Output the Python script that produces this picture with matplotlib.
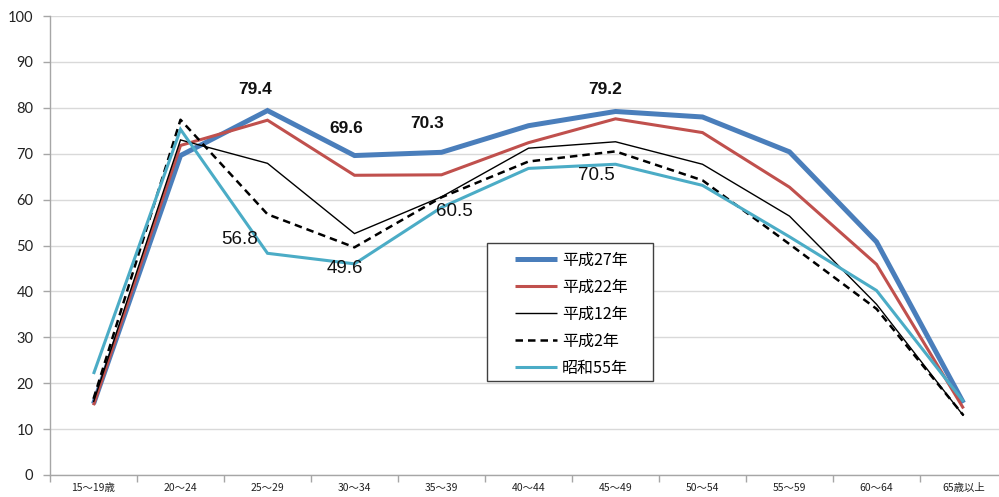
import matplotlib
matplotlib.use("Agg")
import matplotlib.pyplot as plt
from matplotlib.patches import Rectangle
import numpy as np

plt.rcParams['font.family'] = ['Noto Sans CJK JP', 'DejaVu Sans']

categories = ['15～19歳', '20～24', '25～29', '30～34', '35～39', '40～44',
              '45～49', '50～54', '55～59', '60～64', '65歳以上']
series_names = ['平成27年', '平成22年', '平成12年', '平成2年', '昭和55年']
h27 = [15.5, 69.6, 79.4, 69.6, 70.3, 76.1, 79.2, 78.0, 70.4, 50.8, 15.7]
h22 = [15.2, 71.8, 77.3, 65.3, 65.4, 72.4, 77.6, 74.6, 62.7, 45.9, 14.5]
h12 = [15.9, 73.0, 67.9, 52.6, 60.6, 71.2, 72.6, 67.7, 56.4, 37.2, 12.9]
h2 = [16.6, 77.4, 56.8, 49.6, 60.5, 68.3, 70.5, 64.2, 50.3, 36.2, 13.0]
s55 = [22.0, 75.3, 48.3, 46.0, 58.3, 66.8, 67.7, 63.1, 51.9, 40.2, 16.0]
yticks = [0, 10, 20, 30, 40, 50, 60, 70, 80, 90, 100]

# labelled points
bold_labels_idx = [2, 3, 4, 6]          # 平成27年
plain_labels_idx = [2, 3, 4, 6]         # 平成2年

W, H = 999, 497
fig = plt.figure(figsize=(W / 100, H / 100), dpi=100)
left, right, bottom, top = 50, 1007, 475, 16
ax = fig.add_axes([left / W, 1 - bottom / H, (right - left) / W, (bottom - top) / H])

x = np.arange(len(categories))
styles = [
    dict(color='#4a7ebb', lw=3.6, ls='-'),
    dict(color='#c0504d', lw=2.2, ls='-'),
    dict(color='#000000', lw=1.0, ls='-'),
    dict(color='#000000', lw=1.8, ls=(0, (3, 2))),
    dict(color='#4bacc6', lw=2.2, ls='-'),
]
data = [h27, h22, h12, h2, s55]
for name, vals, st in zip(series_names, data, styles):
    ax.plot(x, vals, label=name, color=st['color'], lw=st['lw'], ls=st['ls'],
            solid_joinstyle='miter', solid_capstyle='butt')

ax.set_xlim(-0.5, len(categories) - 0.5)
ax.set_ylim(0, 100)
ax.set_yticks(yticks)
ax.set_yticklabels([str(v) for v in yticks], fontfamily='Lato', fontsize=10.5, color='#222222')
ax.set_xticks(x)
ax.set_xticklabels(categories, fontsize=7.5, color='#222222')
ax.set_xticks(np.arange(len(categories) + 1) - 0.5, minor=True)
ax.tick_params(axis='x', which='major', length=0, pad=6)
ax.tick_params(axis='x', which='minor', length=5, color='#a6a6a6', width=1)
ax.tick_params(axis='y', length=5, color='#a6a6a6', width=1, pad=7)

ax.grid(axis='y', color='#d9d9d9', lw=1)
ax.set_axisbelow(True)
for s in ['top', 'right']:
    ax.spines[s].set_visible(False)
for s in ['left', 'bottom']:
    ax.spines[s].set_color('#a6a6a6')
    ax.spines[s].set_linewidth(1)

# annotations
bold_offsets = {2: (-12, 21), 3: (-8, 27), 4: (-14, 29), 6: (-10, 22)}
for i in bold_labels_idx:
    ax.annotate(f'{h27[i]:.1f}', xy=(x[i], h27[i]), xytext=bold_offsets[i],
                textcoords='offset pixels', ha='center', va='center',
                fontfamily='Liberation Sans', fontweight='bold', fontsize=12.5,
                color='#111111')
plain_offsets = {2: (-28, -25), 3: (-10, -21), 4: (13, -14), 6: (-19, -24)}
for i in plain_labels_idx:
    ax.annotate(f'{h2[i]:.1f}', xy=(x[i], h2[i]), xytext=plain_offsets[i],
                textcoords='offset pixels', ha='center', va='center',
                fontfamily='Liberation Sans', fontsize=13.5, color='#111111')

# legend frame drawn manually, entries placed inside
fig.patches.append(Rectangle((487 / W, 1 - 381 / H), 166 / W, 138 / H,
                             transform=fig.transFigure, facecolor='white',
                             edgecolor='#404040', lw=1, zorder=5))
leg = fig.legend(loc='upper left', bbox_to_anchor=(515 / W, 1 - 252 / H),
                 bbox_transform=fig.transFigure, fontsize=11.5,
                 handlelength=2.65, handletextpad=0.3, labelspacing=0.62,
                 borderpad=0, borderaxespad=0, frameon=False)
leg.set_zorder(6)

fig.savefig('out.png', dpi=100)
